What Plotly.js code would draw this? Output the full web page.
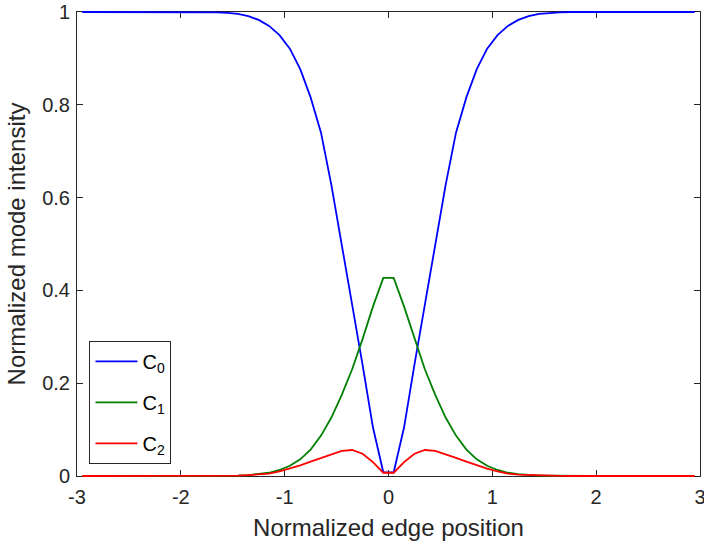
<!DOCTYPE html>
<html>
<head>
<meta charset="utf-8">
<script src="https://cdn.plot.ly/plotly-3.0.1.min.js"></script>
<style>
html,body{margin:0;padding:0;background:#fff;}
#chart{width:704px;height:548px;}
</style>
</head>
<body>
<div id="chart"></div>
<script>
var xPos = [-2.95,-2.85,-2.75,-2.65,-2.55,-2.45,-2.35,-2.25,-2.15,-2.05,
            -1.95,-1.85,-1.75,-1.65,-1.55,-1.45,-1.35,-1.25,-1.15,-1.05,
            -0.95,-0.85,-0.75,-0.65,-0.55,-0.45,-0.35,-0.25,-0.15,-0.05,
             0.05, 0.15, 0.25, 0.35, 0.45, 0.55, 0.65, 0.75, 0.85, 0.95,
             1.05, 1.15, 1.25, 1.35, 1.45, 1.55, 1.65, 1.75, 1.85, 1.95,
             2.05, 2.15, 2.25, 2.35, 2.45, 2.55, 2.65, 2.75, 2.85, 2.95];

var c0 = [1,1,1,1,1,1,1,1,1,1,
          1,1,1,0.999,0.998,0.996,0.991,0.983,0.970,0.950,
          0.921,0.877,0.816,0.740,0.627,0.500,0.372,0.240,0.105,0.008,
          0.008,0.105,0.240,0.372,0.500,0.627,0.740,0.816,0.877,0.921,
          0.950,0.970,0.983,0.991,0.996,0.998,0.999,1,1,1,
          1,1,1,1,1,1,1,1,1,1];

var c1 = [0,0,0,0,0,0,0,0,0,0,
          0,0,0,0,0.0005,0.001,0.002,0.004,0.007,0.013,
          0.022,0.036,0.057,0.087,0.126,0.175,0.230,0.295,0.365,0.427,
          0.427,0.365,0.295,0.230,0.175,0.126,0.087,0.057,0.036,0.022,
          0.013,0.007,0.004,0.002,0.001,0.0005,0,0,0,0,
          0,0,0,0,0,0,0,0,0,0];

var c2 = [0,0,0,0,0,0,0,0,0,0,
          0,0,0,0.0003,0.0006,0.001,0.002,0.003,0.005,0.010,
          0.016,0.023,0.031,0.039,0.047,0.054,0.056,0.048,0.030,0.007,
          0.007,0.030,0.048,0.056,0.054,0.047,0.039,0.031,0.023,0.016,
          0.010,0.005,0.003,0.002,0.001,0.0006,0.0003,0,0,0,
          0,0,0,0,0,0,0,0,0,0];

var seriesNames = ['C<sub>0</sub>','C<sub>1</sub>','C<sub>2</sub>'];
var xTicks = [-3,-2,-1,0,1,2,3];
var xTickText = ['-3','-2','-1','0','1','2','3'];
var yTicks = [0,0.2,0.4,0.6,0.8,1];
var yTickText = ['0','0.2','0.4','0.6','0.8','1'];

var colors = ['#0000ff','#008000','#ff0000'];
var ys = [c0,c1,c2];
var traces = ys.map(function(y,i){
  return {x:xPos, y:y, type:'scatter', mode:'lines', name:seriesNames[i],
          legendgroup:'g'+i,
          line:{color:colors[i], width:1.8}};
});

var axCol = '#262626';
var font = 'Liberation Sans, Arial, Helvetica, sans-serif';
var layout = {
  width:704, height:548,
  margin:{l:77, r:4, t:12, b:72},
  paper_bgcolor:'#fff', plot_bgcolor:'#fff',
  showlegend:true,
  font:{family:font, color:axCol, size:20},
  xaxis:{range:[-3,3], tickvals:xTicks, ticktext:xTickText,
         ticks:'inside', ticklen:6, tickcolor:axCol, tickwidth:1,
         showline:true, linecolor:axCol, linewidth:1, mirror:'ticks',
         showgrid:false, zeroline:false, layer:'below traces',
         ticklabeloverflow:'allow', ticklabelstandoff:3,
         tickfont:{family:font, size:20, color:axCol},
         title:{text:'Normalized edge position', font:{family:font,size:24,color:axCol}, standoff:12}},
  yaxis:{range:[0,1], tickvals:yTicks, ticktext:yTickText,
         ticks:'inside', ticklen:6, tickcolor:axCol, tickwidth:1,
         showline:true, linecolor:axCol, linewidth:1, mirror:'ticks',
         showgrid:false, zeroline:false, layer:'below traces',
         ticklabelstandoff:2,
         tickfont:{family:font, size:20, color:axCol},
         title:{text:'Normalized mode intensity', font:{family:font,size:24,color:axCol}, standoff:9}},
  legend:{x:0.02, y:0.026, xanchor:'left', yanchor:'bottom',
          bgcolor:'#fff', bordercolor:axCol, borderwidth:1,
          itemwidth:42, traceorder:'grouped', tracegroupgap:12,
          font:{family:font, size:20, color:'#000'}}
};

Plotly.newPlot('chart', traces, layout, {displayModeBar:false, staticPlot:true}).then(function(gd){
  gd.querySelectorAll('.cartesianlayer [clip-path]').forEach(function(el){ el.removeAttribute('clip-path'); });
  gd.querySelectorAll('.cartesianlayer .plot, .cartesianlayer .scatterlayer, .cartesianlayer .trace, .cartesianlayer .js-line').forEach(function(el){ el.style.clipPath = 'none'; });
  gd.querySelectorAll('.legendlines path').forEach(function(p){ p.setAttribute('d','M5,0h42'); });
});
</script>
</body>
</html>
